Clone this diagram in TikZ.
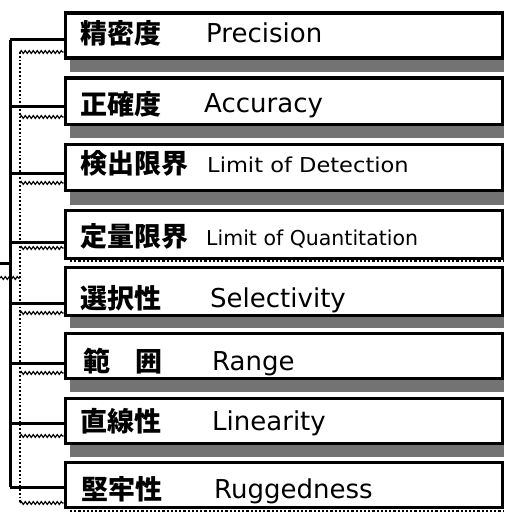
\documentclass[tikz,border=0pt]{standalone}
\usepackage{graphicx}
\usepackage{fontspec}
\setmainfont{DejaVu Sans}
\newfontfamily\jp{Noto Sans CJK JP}
\usetikzlibrary{decorations.pathmorphing}
\tikzset{
  itembox/.style={draw, fill=white, line width=3.6pt, anchor=north west, inner sep=0pt, minimum width=437pt},
  jptext/.style={anchor=base west, inner sep=0pt, font=\jp\bfseries\fontsize{27}{27}\selectfont},
  entext/.style={anchor=base west, inner sep=0pt, font=\fontsize{26}{26}\selectfont},
  ensmall/.style={anchor=base west, inner sep=0pt, font=\fontsize{20.5}{20.5}\selectfont},
  shadowstrip/.style={fill=black!55},
  dotstrip/.style={line width=2.2pt, dotted},
  solidc/.style={line width=3pt},
  dotc/.style={line width=1.8pt, dotted},
  wavec/.style={line width=1.2pt, decorate, decoration={snake, amplitude=1.4pt, segment length=4pt}},
}
\begin{document}
\begin{tikzpicture}[x=1pt,y=-1pt]
\useasboundingbox (0,0) rectangle (504,516);
% shadow strips
\fill[shadowstrip] (70,60) rectangle (504,72);
\fill[shadowstrip] (70,126) rectangle (504,138);
\fill[shadowstrip] (70,192) rectangle (504,205);
\draw[dotstrip] (70,261) -- (504,261);
\fill[shadowstrip] (70,317) rectangle (504,328);
\fill[shadowstrip] (70,380) rectangle (504,392);
\fill[shadowstrip] (70,445) rectangle (504,457);
\draw[dotstrip] (70,511) -- (504,511);
% boxes
\node[itembox, minimum height=45pt] (b1) at (63.5,11.5) {};
\node[itembox, minimum height=46pt] (b2) at (63.5,76.5) {};
\node[itembox, minimum height=46pt] (b3) at (63.5,142.5) {};
\node[itembox, minimum height=48pt] (b4) at (63.5,208.5) {};
\node[itembox, minimum height=48pt] (b5) at (63.5,265.5) {};
\node[itembox, minimum height=45pt] (b6) at (63.5,331.5) {};
\node[itembox, minimum height=45pt] (b7) at (63.5,396.5) {};
\node[itembox, minimum height=45pt] (b8) at (63.5,460.5) {};
% texts
\node[jptext] (j1) at (80,44) {精密度};
\node[entext] (e1) at (206,43) {Precision};
\node[jptext] (j2) at (80,114) {正確度};
\node[entext] (e2) at (204,113) {Accuracy};
\node[jptext] (j3) at (80,173) {検出限界};
\node[ensmall] (e3) at (207,172) {\scalebox{1.1}[1]{Limit of Detection}};
\node[jptext] (j4) at (80,246) {定量限界};
\node[ensmall] (e4) at (206,245) {Limit of Quantitation};
\node[jptext] (j5) at (80,308) {選択性};
\node[entext] (e5) at (210,307) {Selectivity};
\node[jptext] (j6a) at (83,371) {範};
\node[jptext] (j6b) at (135,371) {囲};
\node[entext] (e6) at (212,370) {Range};
\node[jptext] (j7) at (80,431) {直線性};
\node[entext] (e7) at (212,430) {Linearity};
\node[jptext] (j8) at (81,499) {堅牢性};
\node[entext] (e8) at (214,498) {Ruggedness};
% solid bracket
\coordinate (s1) at (10,40);
\coordinate (s2) at (10,107);
\coordinate (s3) at (10,173);
\coordinate (s4) at (10,242);
\coordinate (s5) at (10,303);
\coordinate (s6) at (10,363);
\coordinate (s7) at (10,423);
\coordinate (s8) at (10,487);
\coordinate (sin) at (0,263);
\draw[solidc] (s1) -- (s8);
\draw[solidc] (sin) -- (sin -| s1);
\foreach \i in {1,...,8} {\draw[solidc] (s\i) -- (s\i -| b\i.west);}
% dotted / wavy bracket
\coordinate (d1) at (20,52);
\coordinate (d2) at (20,117);
\coordinate (d3) at (20,183);
\coordinate (d4) at (20,248);
\coordinate (d5) at (20,313);
\coordinate (d6) at (20,373);
\coordinate (d7) at (20,436);
\coordinate (d8) at (20,503);
\coordinate (din) at (0,278);
\draw[dotc] (d1) -- (d8);
\draw[wavec] (din) -- (din -| d1);
\foreach \i in {1,...,8} {\draw[wavec] (d\i) -- (d\i -| b\i.west);}
\end{tikzpicture}
\end{document}
